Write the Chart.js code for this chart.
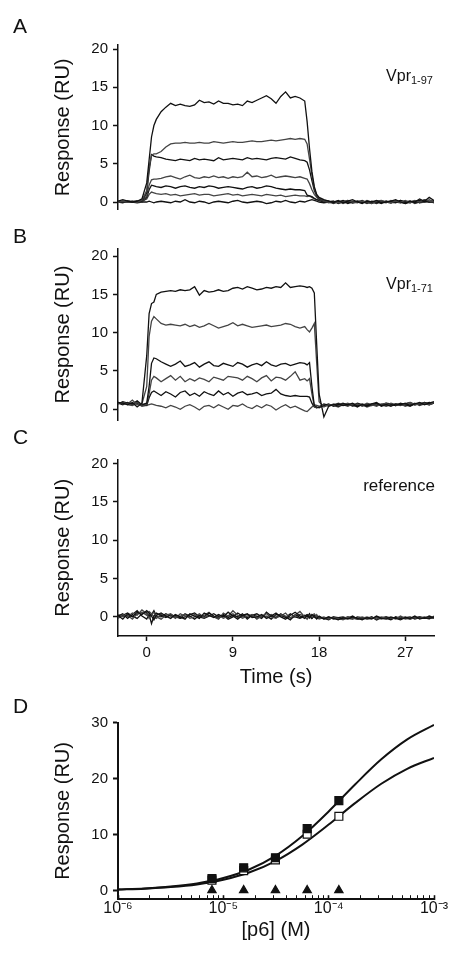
<!DOCTYPE html>
<html lang="en">
<head>
<meta charset="UTF-8">
<title>Vpr - p6 binding sensorgrams</title>
<style>
  body { margin: 0; background: #fff; font-family: "Liberation Sans", Arial, Helvetica, sans-serif; color: #111; }
  #fig { position: relative; width: 454px; height: 954px; overflow: hidden; }
  #fig canvas { position: absolute; left: 0; }
  .panel { position: absolute; left: 13px; font-size: 21px; line-height: 1; }
  .note { position: absolute; line-height: 1; white-space: nowrap; }
  .note sub { font-size: 11px; vertical-align: -3px; line-height: 0; }
</style>
</head>
<body>
<div id="fig">
  <canvas id="chartA" width="454" height="215" style="top:0px"></canvas>
  <canvas id="chartB" width="454" height="215" style="top:215px"></canvas>
  <canvas id="chartC" width="454" height="260" style="top:430px"></canvas>
  <canvas id="chartD" width="454" height="264" style="top:690px"></canvas>

  <div class="panel" style="top:15px">A</div>
  <div class="panel" style="top:225px">B</div>
  <div class="panel" style="top:426px">C</div>
  <div class="panel" style="top:695px">D</div>

  <div class="note" style="top:68px; right:21px; font-size:16px">Vpr<sub>1-97</sub></div>
  <div class="note" style="top:276px; right:21px; font-size:16px">Vpr<sub>1-71</sub></div>
  <div class="note" style="top:477px; right:19px; font-size:17px">reference</div>
</div>

<script src="https://cdn.jsdelivr.net/npm/chart.js"></script>
<script>
    // time base of the sensorgrams (s), panels A-C
    const time = [-3, -2.5, -2, -1.5, -1, -0.5, 0, 0.25, 0.5, 0.75, 1,
        1.5, 2, 2.5, 3, 3.5, 4, 4.5, 5, 5.5, 6, 6.5, 7, 7.5, 8, 8.5, 9, 9.5, 10, 10.5, 11, 11.5, 12, 12.5, 13, 13.5, 14, 14.5, 15, 15.5, 16, 16.5,
        16.75, 17, 17.25, 17.5, 17.75, 18,
        18.5, 19, 19.5, 20, 20.5, 21, 21.5, 22, 22.5, 23, 23.5, 24, 24.5, 25, 25.5, 26, 26.5, 27, 27.5, 28, 28.5, 29, 29.5, 30];

    // A : Vpr 1-97 (RU)
    const A1 = [0.1, 0.3, 0.1, 0.0, 0.1, 0.4, 2.5, 5.5, 8.5, 10.0, 10.8,
        11.8, 12.4, 12.9, 12.6, 12.8, 12.6, 12.5, 12.7, 13.3, 13.0, 13.1, 12.8, 13.2, 12.9, 12.9, 12.7, 12.8, 12.6, 13.2, 13.0, 13.3, 13.6, 13.9, 13.5, 12.9, 13.8, 14.4, 13.6, 13.8, 13.6, 13.2,
        10.5, 7.0, 4.0, 2.0, 1.0, 0.6,
        0.3, 0.1, 0.0, 0.2, -0.1, 0.1, 0.3, 0.0, -0.2, 0.1, 0.0, 0.2, -0.1, 0.0, 0.1, 0.3, 0.0, -0.2, 0.1, 0.0, 0.4, 0.1, 0.6, 0.2];
    const A2 = [0.0, 0.1, 0.0, 0.1, 0.0, 0.2, 1.5, 4.5, 6.1, 6.3, 6.3,
        6.6, 7.2, 7.6, 7.7, 7.7, 7.8, 7.7, 7.7, 7.8, 7.7, 7.7, 7.9, 7.8, 7.7, 7.8, 7.9, 7.8, 7.8, 7.9, 8.0, 7.9, 7.9, 8.0, 8.1, 8.0, 8.1, 8.2, 8.3, 8.2, 8.3, 8.2,
        7.6, 5.6, 3.5, 1.8, 0.9, 0.5,
        0.2, 0.0, 0.1, -0.1, 0.0, 0.2, 0.0, -0.1, 0.1, 0.0, -0.2, 0.1, 0.2, 0.0, -0.1, 0.1, 0.0, 0.2, -0.1, 0.1, 0.0, 0.3, 0.1, 0.0];
    const A3 = [0.1, 0.0, 0.1, 0.0, 0.1, 0.1, 1.2, 4.0, 6.2, 6.0, 5.9,
        5.8, 5.6, 5.5, 5.4, 5.6, 5.5, 5.4, 5.7, 5.5, 5.6, 5.5, 5.4, 5.8, 5.5, 5.6, 5.7, 5.6, 5.5, 5.8, 5.6, 5.7, 5.6, 5.5, 5.7, 5.8, 5.7, 5.6, 5.9, 5.7, 5.5, 5.4,
        5.2, 4.2, 2.8, 1.5, 0.8, 0.4,
        0.2, 0.1, -0.1, 0.0, 0.1, -0.2, 0.0, 0.1, 0.0, -0.1, 0.1, 0.0, -0.2, 0.1, 0.0, -0.1, 0.2, 0.0, 0.1, -0.1, 0.0, 0.1, 0.0, 0.1];
    const A4 = [0.0, 0.1, 0.0, 0.0, 0.1, 0.0, 0.8, 2.2, 2.9, 3.0, 3.0,
        3.1, 3.3, 3.4, 3.2, 3.0, 3.3, 3.5, 3.2, 3.1, 3.3, 3.2, 3.4, 3.2, 3.3, 3.1, 3.3, 3.2, 3.3, 3.9, 3.3, 3.4, 3.2, 3.3, 3.5, 3.2, 3.3, 3.4, 3.3, 3.2, 3.3, 3.1,
        3.0, 2.4, 1.6, 1.0, 0.6, 0.3,
        0.1, 0.0, -0.2, 0.1, 0.0, 0.2, -0.1, 0.0, 0.1, -0.2, 0.0, 0.1, 0.0, -0.1, 0.2, 0.0, -0.1, 0.1, 0.0, 0.2, -0.1, 0.0, 0.3, 0.0];
    const A5 = [0.0, 0.0, 0.1, 0.0, 0.1, 0.0, 0.6, 1.6, 2.2, 2.1, 2.0,
        1.9, 2.1, 2.0, 1.8, 2.0, 2.1, 1.9, 1.8, 2.0, 1.9, 2.1, 2.0, 1.8, 1.9, 2.0, 1.9, 1.8, 1.7, 1.9, 2.0, 1.8, 1.9, 2.1, 2.0, 1.8, 1.7, 1.6, 1.7, 1.6, 1.6, 1.5,
        0.9, 0.8, 0.7, 0.5, 0.3, 0.2,
        0.0, 0.1, -0.1, 0.0, 0.2, 0.0, -0.1, 0.1, 0.0, 0.0, -0.2, 0.1, 0.0, 0.1, -0.1, 0.0, 0.2, 0.0, -0.1, 0.1, 0.2, 0.0, 0.1, -0.1];
    const A6 = [0.0, 0.1, 0.0, 0.1, 0.0, 0.1, 0.4, 1.0, 1.3, 1.2, 1.1,
        1.0, 1.1, 0.9, 1.0, 0.8, 0.9, 1.0, 1.1, 0.9, 1.0, 1.0, 0.8, 0.9, 1.0, 1.1, 0.9, 1.0, 0.8, 0.9, 1.0, 0.9, 0.8, 1.0, 0.9, 0.8, 0.9, 0.7, 0.8, 0.9, 0.8, 0.8,
        0.7, 0.8, 0.6, 0.4, 0.3, 0.2,
        0.1, -0.1, 0.0, 0.1, -0.2, 0.0, 0.1, 0.0, -0.1, 0.2, 0.0, -0.1, 0.1, 0.0, 0.0, 0.2, -0.1, 0.0, 0.1, -0.2, 0.0, 0.2, 0.0, 0.1];
    const A7 = [0.0, -0.1, 0.1, 0.0, -0.1, 0.0, 0.0, 0.1, 0.0, -0.1, 0.0,
        0.1, 0.0, -0.1, 0.1, 0.0, 0.3, 0.0, -0.1, 0.1, 0.0, -0.2, 0.0, 0.1, 0.0, -0.1, 0.1, 0.2, 0.0, -0.1, 0.0, 0.1, 0.0, -0.2, -0.1, 0.1, 0.0, 0.2, 0.0, -0.1, 0.1, 0.0,
        0.1, 0.2, 0.3, 0.2, 0.1, 0.0,
        -0.1, 0.0, 0.1, -0.2, 0.0, 0.1, -0.1, 0.0, 0.2, -0.1, 0.0, -0.2, 0.1, 0.0, -0.1, 0.1, 0.0, -0.2, 0.0, 0.1, -0.1, 0.3, 0.0, 0.1];

    // B : Vpr 1-71 (RU)
    const B1 = [0.9, 0.8, 0.6, 0.9, 0.3, 0.8, 7.0, 12.5, 13.8, 14.0, 15.0,
        15.3, 15.4, 15.5, 15.4, 15.6, 15.5, 15.6, 16.0, 14.9, 15.5, 15.3, 15.4, 15.6, 15.4, 15.5, 15.8, 15.9, 15.7, 16.0, 15.8, 15.6, 15.7, 15.9, 15.8, 16.0, 15.9, 16.5, 15.9, 16.0, 16.1, 16.0,
        15.9, 16.0, 15.8, 15.2, 8.5, 2.0,
        -1.0, 0.4, 0.6, 0.7, 0.5, 0.6, 0.8, 0.4, 0.6, 0.5, 0.7, 0.9, 0.5, 0.6, 0.4, 0.7, 0.6, 0.8, 0.5, 0.7, 0.9, 0.6, 0.8, 1.0];
    const B2 = [0.8, 0.9, 0.7, 1.2, 0.6, 0.7, 3.0, 9.5, 11.5, 12.1, 11.8,
        11.2, 11.0, 11.1, 11.0, 10.9, 11.1, 10.8, 11.0, 10.7, 10.9, 11.2, 10.9, 10.6, 10.8, 11.0, 11.3, 10.9, 11.1, 10.9, 10.7, 10.8, 10.9, 11.0, 10.8, 10.9, 11.0, 11.2, 11.1, 10.8, 10.6, 10.8,
        10.4, 10.1, 10.6, 11.2, 6.0, 1.0,
        0.3, 0.6, 0.5, 0.8, 0.6, 0.4, 0.7, 0.6, 0.5, 0.8, 0.6, 0.4, 0.7, 0.5, 0.8, 0.6, 0.5, 0.7, 0.9, 0.6, 0.7, 0.8, 0.6, 0.9];
    const B3 = [0.7, 1.0, 0.8, 0.7, 1.1, 0.6, 0.8, 3.0, 6.0, 6.7, 6.6,
        6.2, 5.9, 5.6, 5.9, 6.3, 5.6, 5.8, 6.1, 5.5, 5.9, 6.2, 5.7, 5.6, 6.0, 5.8, 5.6, 6.1, 5.9, 5.5, 5.8, 6.0, 5.7, 6.2, 5.8, 5.6, 5.9, 6.0, 5.7, 5.9, 6.1, 6.0,
        5.8, 6.1, 3.0, 0.5, 0.3, 0.2,
        0.5, 0.7, 0.4, 0.6, 0.8, 0.5, 0.6, 0.3, 0.7, 0.5, 0.6, 0.8, 0.4, 0.6, 0.7, 0.5, 0.8, 0.6, 0.4, 0.7, 0.6, 0.9, 0.7, 0.8];
    const B4 = [0.9, 0.7, 0.8, 0.6, 0.9, 0.5, 0.6, 2.0, 3.8, 4.3, 4.1,
        3.6, 4.0, 4.4, 3.8, 4.3, 3.6, 4.0, 3.7, 4.1, 3.9, 3.6, 4.2, 4.0, 3.8, 4.3, 4.2, 4.1, 3.8, 4.3, 4.0, 3.6, 4.1, 4.4, 3.7, 4.2, 4.1, 3.8, 4.3, 4.9, 3.8, 4.0,
        3.7, 4.0, 2.0, 0.4, 0.2, 0.3,
        0.6, 0.4, 0.7, 0.5, 0.6, 0.8, 0.5, 0.7, 0.4, 0.6, 0.5, 0.7, 0.6, 0.8, 0.5, 0.7, 0.6, 0.5, 0.8, 0.6, 0.7, 0.9, 0.6, 0.8];
    const B5 = [0.8, 0.6, 0.9, 0.7, 0.8, 0.6, 0.5, 1.5, 2.2, 2.4, 2.2,
        1.8, 2.3, 2.0, 1.6, 2.2, 2.4, 1.8, 2.1, 1.7, 2.3, 2.0, 1.8, 2.4, 1.9, 2.2, 1.7, 2.1, 2.3, 1.9, 2.0, 2.2, 1.8, 2.0, 2.1, 2.6, 2.0, 1.8, 1.7, 1.8, 1.7, 1.7,
        1.7, 1.6, 0.8, 0.3, 0.2, 0.3,
        0.7, 0.5, 0.6, 0.4, 0.7, 0.6, 0.5, 0.8, 0.6, 0.4, 0.7, 0.5, 0.6, 0.8, 0.7, 0.5, 0.6, 0.7, 0.9, 0.6, 0.8, 0.7, 0.9, 0.8];
    const B6 = [0.7, 0.9, 0.6, 0.5, 0.8, 0.4, 0.5, 0.6, 0.7, 0.6, 0.5,
        0.4, 0.2, 0.5, 0.3, 0.0, 0.4, 0.6, 0.3, -0.1, 0.4, 0.5, 0.2, 0.6, 0.3, 0.0, 0.5, 0.4, 0.7, 0.3, 0.1, 0.5, 0.2, 0.6, 0.4, -0.1, 0.3, 0.6, 0.2, 0.4, 0.1, -0.2,
        -0.3, 0.0, 0.3, 0.6, 0.5, 0.4,
        0.4, 0.6, 0.5, 0.3, 0.6, 0.7, 0.4, 0.5, 0.6, 0.3, 0.5, 0.7, 0.6, 0.4, 0.6, 0.5, 0.7, 0.4, 0.6, 0.8, 0.5, 0.7, 0.6, 0.8];

    // C : reference cell (RU)
    const C1 = [0.2, -0.3, 0.4, 0.0, 0.6, 0.3, 0.8, 0.5, 0.1, -0.4, 0.2,
        0.5, 0.1, -0.2, 0.3, 0.0, -0.3, 0.4, 0.1, -0.2, 0.5, 0.2, -0.1, 0.3, 0.0, 0.6, 0.1, -0.3, 0.2, 0.4, -0.1, 0.0, 0.3, -0.2, 0.1, 0.5, 0.0, -0.3, 0.2, 0.6, 0.1, -0.2,
        0.2, -0.1, 0.3, 0.0, -0.2, 0.1,
        -0.3, 0.0, -0.2, -0.4, -0.1, -0.3, 0.0, -0.2, -0.4, -0.1, -0.3, 0.1, -0.2, -0.3, 0.0, -0.2, -0.4, -0.1, -0.2, 0.1, -0.3, -0.1, -0.2, 0.0];
    const C2 = [-0.2, 0.3, 0.0, 0.5, 0.2, 0.9, 0.4, -0.2, 0.3, 0.6, 0.0,
        -0.3, 0.2, 0.4, -0.1, 0.1, 0.3, -0.2, 0.0, 0.4, -0.1, 0.2, 0.0, -0.3, 0.5, 0.1, 0.8, 0.2, -0.2, 0.1, 0.3, -0.3, 0.1, 0.4, 0.0, -0.2, 0.3, 0.1, -0.1, 0.2, 0.7, 0.0,
        -0.3, 0.2, 0.0, -0.1, 0.3, -0.2,
        0.0, -0.3, -0.1, -0.2, -0.4, 0.0, -0.2, -0.3, 0.0, -0.2, -0.1, -0.3, 0.0, -0.2, -0.1, -0.3, 0.1, -0.2, -0.3, 0.0, -0.2, 0.0, -0.1, -0.2];
    const C3 = [0.1, 0.4, -0.2, 0.3, 0.8, 0.1, -0.3, 0.3, -0.9, 0.1, 0.5,
        0.2, -0.1, 0.3, 0.0, -0.2, 0.4, 0.1, -0.3, 0.2, 0.0, 0.5, 0.1, -0.2, 0.3, -0.1, 0.2, 0.0, 0.4, -0.3, 0.2, 0.1, -0.2, 0.6, 0.1, -0.1, 0.4, 0.0, -0.4, 0.3, -0.1, 0.2,
        0.0, 0.4, -0.2, 0.1, -0.3, 0.0,
        -0.2, -0.4, 0.0, -0.1, -0.3, -0.2, 0.1, -0.3, -0.1, -0.2, 0.0, -0.4, -0.1, 0.0, -0.3, -0.1, -0.2, 0.0, -0.3, -0.1, 0.0, -0.2, -0.1, -0.2];
    const C4 = [0.3, 0.0, 0.2, -0.3, 0.4, 0.6, 0.2, 0.7, 0.4, 0.0, -0.2,
        0.3, 0.0, 0.2, -0.2, 0.4, 0.1, 0.0, 0.3, -0.1, 0.2, 0.6, 0.0, 0.2, -0.2, 0.1, 0.4, -0.1, 0.0, 0.3, 0.1, -0.2, 0.2, 0.0, 0.3, -0.1, 0.1, 0.5, -0.2, 0.0, 0.3, 0.1,
        0.1, -0.2, 0.2, 0.4, 0.0, -0.3,
        -0.1, -0.2, 0.0, -0.3, -0.2, 0.0, -0.1, -0.3, -0.2, 0.0, -0.2, -0.1, -0.3, 0.0, -0.1, -0.2, 0.0, -0.3, -0.1, -0.2, 0.0, -0.1, -0.3, 0.1];
    const C5 = [-0.1, 0.2, 0.5, 0.1, -0.2, 0.4, 0.6, 0.0, 0.3, 0.8, 0.1,
        0.0, 0.4, 0.1, 0.2, -0.2, 0.0, 0.3, 0.5, 0.0, -0.2, 0.1, 0.4, 0.0, 0.2, -0.3, 0.0, 0.5, 0.1, -0.1, 0.2, 0.4, 0.0, 0.1, -0.3, 0.3, 0.2, -0.1, 0.4, 0.0, -0.2, 0.1,
        0.3, 0.0, -0.2, 0.2, 0.1, -0.1,
        -0.2, 0.0, -0.3, -0.1, 0.0, -0.2, -0.3, 0.0, -0.1, -0.3, -0.2, 0.0, -0.1, -0.2, -0.4, 0.0, -0.2, -0.1, 0.0, -0.3, -0.1, -0.2, 0.1, -0.1];

    const respTicks = [0, 5, 10, 15, 20];
    const timeTicks = [0, 9, 18, 27];

    // D : steady state response vs [p6]
    const doseX = [7.8e-6, 1.56e-5, 3.125e-5, 6.25e-5, 1.25e-4];
    const respFilled = [2.2, 4.1, 5.9, 11.1, 16.1];
    const respOpen = [1.9, 3.6, 5.5, 10.1, 13.3];
    const respRef = [0.1, 0.1, 0.1, 0.1, 0.1];
    const fitX = [1e-6, 1.78e-6, 3.16e-6, 5.62e-6, 1e-5, 1.78e-5, 3.16e-5, 5.62e-5, 1e-4, 1.78e-4, 3.16e-4, 5.62e-4, 1e-3];
    const fitUpper = [0.24, 0.43, 0.76, 1.32, 2.28, 3.85, 6.28, 9.76, 14.16, 18.97, 23.46, 27.06, 29.61];
    const fitLower = [0.21, 0.37, 0.66, 1.14, 1.97, 3.31, 5.36, 8.25, 11.82, 15.64, 19.10, 21.82, 23.72];
    const doseMajor = [1e-6, 1e-5, 1e-4, 1e-3];
    const doseLabels = ['10⁻⁶', '10⁻⁵', '10⁻⁴', '10⁻³'];
    const ruTicksD = [0, 10, 20, 30];

    const FONT = '"Liberation Sans", Arial, Helvetica, sans-serif';
    const INK = '#111';

    const pts = (xs, ys) => xs.map((x, i) => ({ x: x, y: ys[i] }));

    // y axis shared by all panels, left edge of plot fixed at x=118
    const respAxis = (min, max, ticks, lw) => ({
        min: min, max: max,
        afterBuildTicks: s => { s.ticks = ticks.map(v => ({ value: v })); },
        afterFit: s => { s.width = 118; s.paddingTop = 0; s.paddingBottom = 0; },
        grid: { display: true, drawOnChartArea: false, drawTicks: true, tickLength: 5, tickWidth: lw, tickColor: INK },
        border: { display: true, color: INK, width: lw },
        ticks: { color: INK, padding: 5, autoSkip: false, font: { family: FONT, size: 15 } },
        title: { display: true, text: 'Response (RU)', color: INK, font: { family: FONT, size: 20 }, padding: { top: 51, bottom: 0 } }
    });

    function sensorgram(id, traces, yMin, yMax, pad, showTime) {
        let xAxis = { type: 'linear', min: -3, max: 30, display: false };
        if (showTime) {
            xAxis = {
                type: 'linear', min: -3, max: 30,
                afterBuildTicks: s => { s.ticks = timeTicks.map(v => ({ value: v })); },
                afterFit: s => { s.height = 54; s.paddingLeft = 0; s.paddingRight = 0; },
                grid: { display: true, drawOnChartArea: false, drawTicks: true, tickLength: 5, tickWidth: 1.5, tickColor: INK },
                border: { display: true, color: INK, width: 1.5 },
                ticks: { color: INK, padding: 3, autoSkip: false, maxRotation: 0, font: { family: FONT, size: 15 } },
                title: { display: true, text: 'Time (s)', color: INK, font: { family: FONT, size: 20 }, padding: { top: 0, bottom: 1 } }
            };
        }
        new Chart(document.getElementById(id), {
            type: 'line',
            data: {
                datasets: traces.map((t, i) => ({
                    data: pts(time, t),
                    borderColor: i % 2 ? '#444' : INK,
                    borderWidth: 1.3,
                    pointRadius: 0,
                    tension: 0
                }))
            },
            options: {
                responsive: false,
                animation: false,
                layout: { padding: pad },
                plugins: { legend: { display: false }, tooltip: { enabled: false } },
                scales: { x: xAxis, y: respAxis(yMin, yMax, respTicks, 1.5) }
            }
        });
    }

    sensorgram('chartA', [A1, A2, A3, A4, A5, A6, A7], -1, 20.5, { top: 45.2, bottom: 5.35, left: 0, right: 20 }, false);
    sensorgram('chartB', [B1, B2, B3, B4, B5, B6], -1.5, 21, { top: 33.4, bottom: 9.2, left: 0, right: 20 }, false);
    sensorgram('chartC', [C1, C2, C3, C4, C5], -2.5, 20.5, { top: 29.7, bottom: 0, left: 0, right: 20 }, true);

    // panel D
    const doseTicks = [];
    doseMajor.forEach((v, k) => {
        doseTicks.push({ value: v, major: true });
        if (k < doseMajor.length - 1) {
            for (let m = 2; m <= 9; m++) doseTicks.push({ value: m * v, major: false });
        }
    });

    const marker = (ys, style, fill, r) => ({
        data: pts(doseX, ys),
        showLine: false,
        pointStyle: style,
        pointRadius: r,
        pointBackgroundColor: fill,
        pointBorderColor: INK,
        pointBorderWidth: 1.2
    });
    const fitLine = ys => ({
        data: pts(fitX, ys),
        borderColor: INK,
        borderWidth: 2,
        pointRadius: 0,
        cubicInterpolationMode: 'monotone'
    });

    new Chart(document.getElementById('chartD'), {
        type: 'line',
        data: {
            datasets: [
                marker(respFilled, 'rect', INK, 5.6),
                marker(respOpen, 'rect', '#fff', 5.6),
                marker(respRef, 'triangle', INK, 4.8),
                fitLine(fitUpper),
                fitLine(fitLower)
            ]
        },
        options: {
            responsive: false,
            animation: false,
            layout: { padding: { top: 32.7, bottom: 0, left: 0, right: 20 } },
            plugins: { legend: { display: false }, tooltip: { enabled: false } },
            scales: {
                x: {
                    type: 'logarithmic', min: 1e-6, max: 1e-3,
                    afterBuildTicks: s => { s.ticks = doseTicks.map(t => ({ value: t.value, major: t.major })); },
                    afterFit: s => { s.height = 54.8; s.paddingLeft = 0; s.paddingRight = 0; },
                    grid: {
                        display: true, drawOnChartArea: false, drawTicks: true, tickLength: -4, tickColor: INK,
                        tickWidth: c => (c.tick && c.tick.major ? 1.6 : 1)
                    },
                    border: { display: true, color: INK, width: 2 },
                    ticks: {
                        color: INK, padding: 4, autoSkip: false, maxRotation: 0,
                        font: { family: FONT, size: 16 },
                        callback: v => {
                            const k = doseMajor.indexOf(v);
                            return k >= 0 ? doseLabels[k] : '';
                        }
                    },
                    title: { display: true, text: '[p6] (M)', color: INK, font: { family: FONT, size: 20 }, padding: { top: 0, bottom: 12 } }
                },
                y: respAxis(-1.5, 30, ruTicksD, 2)
            }
        }
    });
</script>
</body>
</html>
